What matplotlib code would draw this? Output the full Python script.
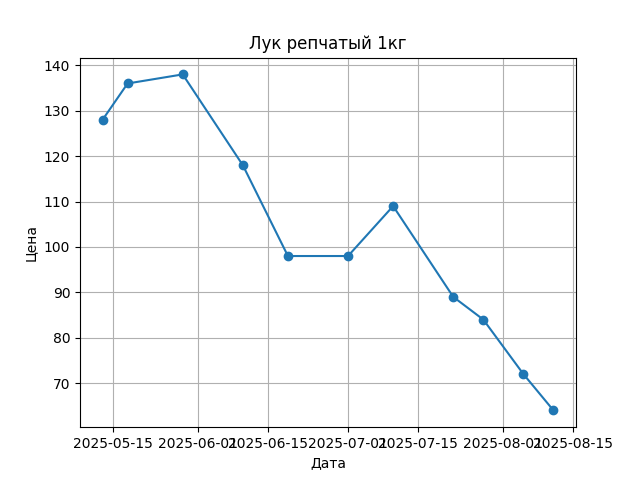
import matplotlib
matplotlib.use("Agg")
import matplotlib.pyplot as plt
import pandas as pd

# даты и цены
dates = ["2025-05-13", "2025-05-18", "2025-05-29", "2025-06-10", "2025-06-19",
         "2025-07-01", "2025-07-10", "2025-07-22", "2025-07-28", "2025-08-05",
         "2025-08-11"]
prices = [128, 136, 138, 118, 98, 98, 109, 89, 84, 72, 64]

x = pd.to_datetime(dates)

fig = plt.figure(figsize=(6.4, 4.8), dpi=100)
plt.plot(x, prices, marker="o")
plt.title("Лук репчатый 1кг")
plt.xlabel("Дата")
plt.ylabel("Цена")
plt.grid(True)
plt.savefig("out.png")
